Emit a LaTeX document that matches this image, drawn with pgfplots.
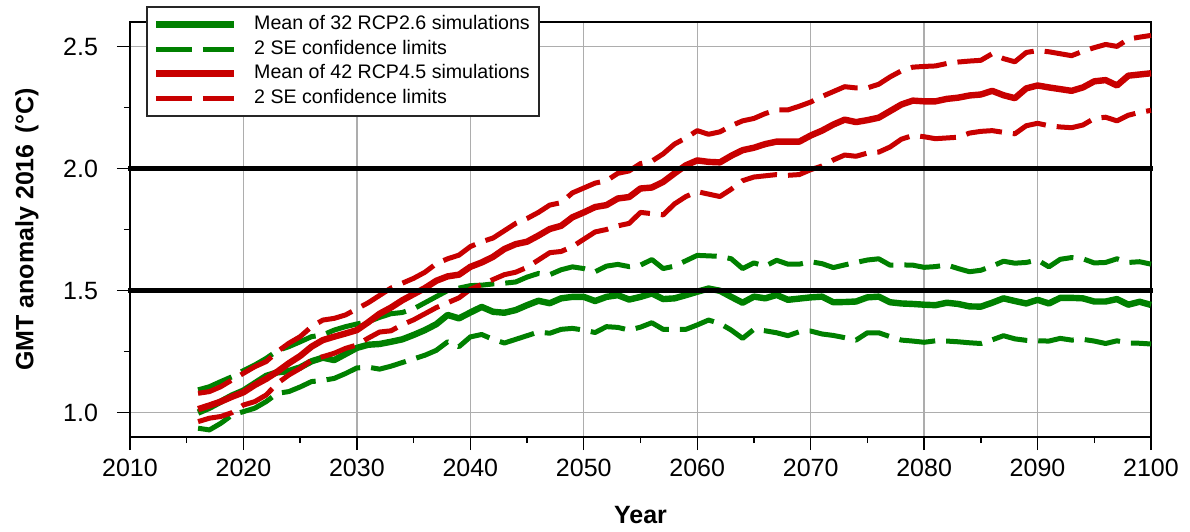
\documentclass[border=0pt]{standalone}
\usepackage{fontspec}
\setmainfont{Liberation Sans}
\usepackage{pgfplots}
\usepackage{pgfplotstable}
\pgfplotsset{compat=1.18}
\definecolor{rcpgreen}{RGB}{0,128,0}
\definecolor{rcpred}{RGB}{200,0,0}

% Ensemble means of global mean temperature and their 2 SE limits
% gm/gu/gl: RCP2.6 mean, upper, lower; rm/ru/rl: RCP4.5 mean, upper, lower
\pgfplotstableread{
year gm gu gl rm ru rl
2016 1.000 1.093 0.936 1.014 1.079 0.963
2017 1.020 1.106 0.929 1.029 1.086 0.977
2018 1.045 1.127 0.956 1.045 1.106 0.984
2019 1.070 1.147 0.990 1.065 1.134 1.000
2020 1.090 1.172 1.004 1.083 1.161 1.031
2021 1.120 1.195 1.018 1.113 1.188 1.045
2022 1.150 1.222 1.045 1.138 1.209 1.072
2023 1.165 1.254 1.079 1.168 1.250 1.120
2024 1.170 1.270 1.086 1.202 1.284 1.154
2025 1.185 1.290 1.105 1.232 1.311 1.181
2026 1.210 1.311 1.127 1.270 1.352 1.215
2027 1.225 1.318 1.132 1.297 1.379 1.229
2028 1.215 1.338 1.140 1.311 1.386 1.243
2029 1.240 1.352 1.160 1.324 1.400 1.263
2030 1.265 1.363 1.183 1.338 1.425 1.277
2031 1.278 1.372 1.186 1.370 1.450 1.305
2032 1.281 1.390 1.178 1.405 1.480 1.330
2033 1.290 1.405 1.190 1.430 1.510 1.335
2034 1.300 1.410 1.205 1.460 1.530 1.360
2035 1.318 1.425 1.220 1.485 1.550 1.380
2036 1.338 1.450 1.235 1.510 1.575 1.405
2037 1.362 1.475 1.255 1.540 1.610 1.430
2038 1.400 1.500 1.290 1.558 1.630 1.450
2039 1.386 1.510 1.270 1.565 1.645 1.470
2040 1.410 1.520 1.310 1.597 1.680 1.505
2041 1.433 1.522 1.320 1.615 1.700 1.525
2042 1.413 1.527 1.300 1.638 1.715 1.545
2043 1.409 1.530 1.285 1.670 1.745 1.565
2044 1.420 1.535 1.300 1.690 1.775 1.575
2045 1.440 1.555 1.315 1.700 1.795 1.595
2046 1.458 1.570 1.330 1.725 1.820 1.625
2047 1.448 1.565 1.325 1.752 1.850 1.655
2048 1.468 1.585 1.341 1.765 1.860 1.660
2049 1.474 1.597 1.345 1.800 1.900 1.680
2050 1.474 1.590 1.338 1.820 1.920 1.710
2051 1.457 1.577 1.328 1.842 1.940 1.740
2052 1.474 1.600 1.352 1.850 1.950 1.750
2053 1.481 1.607 1.349 1.877 1.980 1.765
2054 1.463 1.598 1.338 1.883 1.990 1.775
2055 1.474 1.604 1.350 1.918 2.020 1.820
2056 1.488 1.627 1.368 1.922 2.030 1.815
2057 1.465 1.590 1.341 1.945 2.060 1.810
2058 1.468 1.600 1.341 1.980 2.100 1.855
2059 1.481 1.622 1.341 2.013 2.125 1.885
2060 1.495 1.644 1.359 2.033 2.155 1.905
2061 1.508 1.642 1.379 2.027 2.140 1.895
2062 1.499 1.640 1.365 2.025 2.150 1.885
2063 1.474 1.630 1.338 2.052 2.175 1.915
2064 1.450 1.590 1.304 2.075 2.195 1.950
2065 1.475 1.613 1.341 2.085 2.205 1.965
2066 1.468 1.600 1.335 2.100 2.225 1.970
2067 1.482 1.624 1.327 2.110 2.240 1.975
2068 1.462 1.608 1.315 2.110 2.240 1.972
2069 1.467 1.608 1.331 2.110 2.255 1.975
2070 1.472 1.618 1.334 2.135 2.272 1.995
2071 1.475 1.610 1.322 2.155 2.295 2.010
2072 1.452 1.594 1.316 2.180 2.315 2.035
2073 1.453 1.605 1.307 2.200 2.335 2.055
2074 1.455 1.615 1.297 2.190 2.330 2.050
2075 1.472 1.625 1.327 2.198 2.330 2.063
2076 1.475 1.630 1.327 2.208 2.345 2.067
2077 1.452 1.604 1.311 2.235 2.375 2.088
2078 1.447 1.605 1.297 2.262 2.400 2.120
2079 1.445 1.604 1.293 2.278 2.415 2.135
2080 1.442 1.595 1.288 2.275 2.418 2.130
2081 1.440 1.598 1.294 2.275 2.420 2.122
2082 1.450 1.605 1.293 2.285 2.430 2.125
2083 1.445 1.590 1.290 2.290 2.436 2.128
2084 1.435 1.577 1.286 2.299 2.440 2.145
2085 1.434 1.583 1.283 2.303 2.443 2.152
2086 1.450 1.600 1.298 2.318 2.470 2.155
2087 1.468 1.620 1.315 2.300 2.450 2.148
2088 1.457 1.612 1.302 2.288 2.437 2.142
2089 1.447 1.615 1.296 2.328 2.475 2.175
2090 1.462 1.625 1.294 2.340 2.483 2.185
2091 1.447 1.597 1.293 2.332 2.478 2.175
2092 1.470 1.628 1.304 2.325 2.470 2.170
2093 1.470 1.635 1.297 2.318 2.462 2.167
2094 1.468 1.630 1.300 2.332 2.480 2.178
2095 1.455 1.613 1.293 2.357 2.495 2.205
2096 1.455 1.615 1.283 2.362 2.508 2.210
2097 1.465 1.630 1.294 2.340 2.500 2.195
2098 1.442 1.615 1.285 2.380 2.530 2.218
2099 1.454 1.618 1.284 2.385 2.538 2.230
2100 1.441 1.608 1.281 2.390 2.545 2.238
}\gmtdata

\begin{document}
\begin{tikzpicture}
\path[use as bounding box] (-65bp,-47.5bp) rectangle (530bp,218.5bp);
\begin{axis}[
  scale only axis, width=510.5bp, height=207.5bp,
  xmin=2010, xmax=2100, ymin=0.9, ymax=2.6,
  xtick={2010,2020,...,2100}, ytick={1,1.5,2,2.5},
  minor x tick num=1, minor y tick num=1,
  tick align=outside, xtick pos=bottom, ytick pos=left,
  major tick length=6.5bp, minor tick length=3bp,
  grid=major, major grid style={draw=black!32, line width=0.7bp},
  axis line style={line width=0.9bp},
  tick style={black, line width=0.7bp},
  /pgf/number format/assume math mode=true,
  xticklabel style={/pgf/number format/set thousands separator={}, yshift=-1bp},
  yticklabel style={/pgf/number format/.cd, fixed, fixed zerofill, precision=1, /tikz/.cd, xshift=-6bp},
  tick label style={font=\fontsize{12.5bp}{14bp}\selectfont},
  xlabel={Year},
  ylabel={GMT anomaly 2016\hspace{0.45em}(°C)},
  label style={font=\bfseries\fontsize{12.5bp}{14bp}\selectfont},
  xlabel style={at={(axis description cs:0.5,-0.188)}, anchor=center},
  ylabel style={at={(axis description cs:-0.1009,0.5)}, anchor=center},
  clip=false,
  legend cell align=left,
  legend image code/.code={\draw[#1, line cap=butt] (0bp,0bp) -- (39bp,0bp);},
  legend style={at={(axis description cs:0.01567,1.0386)}, anchor=north west,
    draw=black!85, line width=0.8bp, fill=white,
    font=\fontsize{9.8bp}{11bp}\selectfont,
    inner xsep=3bp, inner ysep=2.7bp, column sep=7bp, row sep=0bp,
    nodes={inner sep=1.5bp, text height=7.2bp, text depth=2.1bp}},
  meanline/.style={line width=3.2bp, line join=round},
  seline/.style={line width=2.5bp, line join=round, dash pattern=on 18bp off 5.5bp},
]
\addplot[rcpgreen, meanline] table[x=year, y=gm] {\gmtdata};
\addlegendentry{Mean of 32 RCP2.6 simulations}
\addplot[rcpgreen, seline] table[x=year, y=gu] {\gmtdata};
\addlegendentry{2 SE confidence limits}
\addplot[rcpgreen, seline, forget plot] table[x=year, y=gl] {\gmtdata};
\addplot[rcpred, meanline] table[x=year, y=rm] {\gmtdata};
\addlegendentry{Mean of 42 RCP4.5 simulations}
\addplot[rcpred, seline] table[x=year, y=ru] {\gmtdata};
\addlegendentry{2 SE confidence limits}
\addplot[rcpred, seline, forget plot] table[x=year, y=rl] {\gmtdata};
% reference levels at 1.5 and 2.0 degrees
\addplot[black, line width=2.2bp, line cap=rect, forget plot] coordinates {(2010,1.5) (2100,1.5)};
\addplot[black, line width=2.2bp, line cap=rect, forget plot] coordinates {(2010,2.0) (2100,2.0)};
\end{axis}
\end{tikzpicture}
\end{document}
